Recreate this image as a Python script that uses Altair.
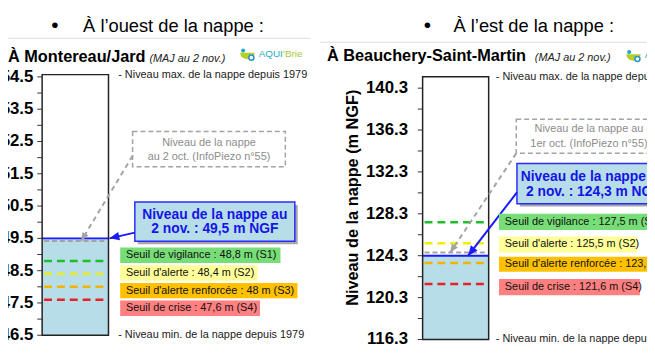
import math
import altair as alt
import pandas as pd

# ---------------- data ----------------
headings = ["À l’ouest de la nappe :", "À l’est de la nappe :"]
stations = ["À Montereau/Jard", "À Beauchery-Saint-Martin"]
update_note = "(MAJ au 2 nov.)"
max_level = [54.57, 141.4]
min_level = [46.5, 116.3]
level_2nov = [49.5, 124.3]
level_prev = [49.42, 124.6]
prev_labels = [["Niveau de la nappe", "au 2 oct. (InfoPiezo n°55)"],
               ["Niveau de la nappe au", "1er oct. (InfoPiezo n°55)"]]
now_label = "Niveau de la nappe au"
now_date = "2 nov."
threshold_west = [48.8, 48.4, 48.0, 47.6]
threshold_east = [127.5, 125.5, 123.6, 121.6]
threshold_names = ["Seuil de vigilance", "Seuil d'alerte", "Seuil d'alerte renforcée", "Seuil de crise"]
threshold_codes = ["S1", "S2", "S3", "S4"]
ticks_west = [46.5, 47.0, 47.5, 48.0, 48.5, 49.0, 49.5, 50.0, 50.5, 51.0, 51.5,
              52.0, 52.5, 53.0, 53.5, 54.0, 54.5]
labels_west = [46.5, 47.5, 48.5, 49.5, 50.5, 51.5, 52.5, 53.5, 54.5]
ticks_east = [116.3, 118.3, 120.3, 122.3, 124.3, 126.3, 128.3, 130.3, 132.3,
              134.3, 136.3, 138.3, 140.3]
labels_east = [116.3, 120.3, 124.3, 128.3, 132.3, 136.3, 140.3]
axis_titles = [None, "Niveau de la nappe (m NGF)"]
max_note = "- Niveau max. de la nappe depuis 1979"
min_note = "- Niveau min. de la nappe depuis 1979"

# ---------------- styles / layout ----------------
W, H = 647, 340
SX = W / 655.0          # reference px -> plot px (horizontal)
VS, VO = 0.975, -5.5    # reference px -> plot px (vertical)
FN = "Liberation Sans, Arial, sans-serif"
FB = "Liberation Sans, Arial, sans-serif"
SMALL = 11
LINE_COLORS = ["#1fbf2a", "#f0f000", "#f5b300", "#e8202a"]
BOX_COLORS = ["#77dd77", "#ffff99", "#ffc000", "#ff8080"]
WATER = "#b7dde8"
BLUE = "#1a1aff"
GRAY = "#a3a3a3"
ARROW = "M0,0L-2,-0.85L-2,0.85Z"
BOWL = "M-1,0L1,0L0.85,0.45L0.55,0.75L0,0.88L-0.55,0.75L-0.85,0.45Z"

LAYOUT = [
    dict(anchor=((75.0, 54.5), (343.3, 46.5)), box=(35, 103),
         bullet=(48, 28.5), heading=(77, 28.5), sep=(0, 310, 35),
         station=(0, 60), maj=(145, 60), logo=(0, 0), note_x=113,
         gray_box=(127.7, 284.3, 131.7, 168.3), gray_text=(206, 143.3, 158.3),
         gray_arrow=(127.7, 157, 75),
         blue_box=(130, 294, 205, 245.7), blue_text=(212, 218.3, 233.3),
         blue_arrow=(130, 236.7, 104),
         thr_boxes=[(115, 279.3, 252.3, 268.3), (115, 256, 270.7, 286.7),
                    (115, 296.7, 289, 305), (115, 258.3, 307.3, 323.3)],
         label_pad=4, title_pos=None),
    dict(anchor=((86.7, 140.3), (347.7, 116.3)), box=(425, 492.7),
         bullet=(430, 28.5), heading=(456.7, 28.5), sep=(320, 700, 39),
         station=(327, 58.3), maj=(540, 58.3), logo=(395.7, 1.5), note_x=500,
         gray_box=(521, 670, 119, 154.3), gray_text=(595.5, 129.3, 144.3),
         gray_arrow=(521, 154.3, 453.3),
         blue_box=(521.7, 679, 165, 206.7), blue_text=(600, 179, 194.3),
         blue_arrow=(521.7, 195, 471.7),
         thr_boxes=[(503.3, 690, 217, 234), (503.3, 645, 240.7, 257.3),
                    (503.3, 700, 261.7, 277.3), (503.3, 647.7, 285, 301.7)],
         label_pad=10, title_pos=(353.5, 200.5)),
]

XS = alt.Scale(domain=[0, 655], nice=False, zero=False)


def fr(v):
    s = f"{v:.1f}"
    if s.endswith(".0"):
        s = s[:-2]
    return s.replace(".", ",")


def make_panel(i, L, thresholds, ticks, tick_labels):
    (r1, v1), (r2, v2) = L["anchor"]
    slope = (v2 - v1) / (r2 - r1)

    def val(r):
        return v1 + (r - r1) * slope

    def ref(v):
        return r1 + (v - v1) / slope

    YS = alt.Scale(domain=[val((H - VO) / VS), val(-VO / VS)], nice=False, zero=False)

    def X(f):
        return alt.X(f"{f}:Q", scale=XS, axis=None)

    def Y(f):
        return alt.Y(f"{f}:Q", scale=YS, axis=None)

    bx0, bx1 = L["box"]
    layers = []

    # gauge box (white background)
    box = pd.DataFrame({"x0": [bx0], "x1": [bx1], "y0": [min_level[i]], "y1": [max_level[i]]})
    layers.append(alt.Chart(box).mark_rect(fill="white").encode(
        x=X("x0"), x2="x1:Q", y=Y("y0"), y2="y1:Q"))

    # water column up to the current level
    water = pd.DataFrame({"x0": [bx0], "x1": [bx1], "y0": [min_level[i]], "y1": [level_2nov[i]]})
    layers.append(alt.Chart(water).mark_rect(fill=WATER).encode(
        x=X("x0"), x2="x1:Q", y=Y("y0"), y2="y1:Q"))

    # thresholds
    thr = pd.DataFrame({"x0": [bx0 + 2] * 4, "x1": [bx1 - 2] * 4, "y": thresholds, "c": LINE_COLORS})
    layers.append(alt.Chart(thr).mark_rule(strokeDash=[8, 5], strokeWidth=2.5).encode(
        x=X("x0"), x2="x1:Q", y=Y("y"), color=alt.Color("c:N", scale=None)))

    # previous level
    prev = pd.DataFrame({"x0": [bx0 + 2], "x1": [bx1 - 2], "y": [level_prev[i]]})
    layers.append(alt.Chart(prev).mark_rule(color=GRAY, strokeDash=[5, 3], strokeWidth=2).encode(
        x=X("x0"), x2="x1:Q", y=Y("y")))

    # current level
    now = pd.DataFrame({"x0": [bx0], "x1": [bx1], "y": [level_2nov[i]]})
    layers.append(alt.Chart(now).mark_rule(color=BLUE, strokeWidth=2).encode(
        x=X("x0"), x2="x1:Q", y=Y("y")))

    # box outline
    layers.append(alt.Chart(box).mark_rect(fillOpacity=0, stroke="#222", strokeWidth=1.5).encode(
        x=X("x0"), x2="x1:Q", y=Y("y0"), y2="y1:Q"))

    # axis ticks and labels (positioned through the y scale)
    tk = pd.DataFrame({"x0": [bx0 - 5] * len(ticks), "x1": [bx0] * len(ticks), "y": ticks})
    layers.append(alt.Chart(tk).mark_rule(color="#333", strokeWidth=1).encode(
        x=X("x0"), x2="x1:Q", y=Y("y")))
    lb = pd.DataFrame({"x": [bx0 - 5 - L["label_pad"]] * len(tick_labels), "y": tick_labels,
                       "t": [f"{v:.1f}" for v in tick_labels]})
    layers.append(alt.Chart(lb).mark_text(align="right", baseline="middle", font=FB, fontSize=17,
                                          fontWeight="bold", color="#000").encode(
        x=X("x"), y=Y("y"), text="t:N"))
    if axis_titles[i]:
        tx, ty = L["title_pos"]
        td = pd.DataFrame({"x": [tx], "y": [val(ty)], "t": [axis_titles[i]]})
        layers.append(alt.Chart(td).mark_text(align="center", baseline="middle", angle=270, font=FB,
                                              fontSize=16.5, fontWeight="bold", color="#000").encode(
            x=X("x"), y=Y("y"), text="t:N"))

    # separator under heading
    sx0, sx1, sy = L["sep"]
    sep = pd.DataFrame({"x0": [sx0], "x1": [sx1], "y": [val(sy)]})
    layers.append(alt.Chart(sep).mark_rule(color="#dcdcdc", strokeWidth=1).encode(
        x=X("x0"), x2="x1:Q", y=Y("y")))

    def arrow(xs, rs, xt, vt, color, dash, size):
        rt = ref(vt)
        ang = math.degrees(math.atan2((rt - rs) * VS, (xt - xs) * SX)) % 360
        d = pd.DataFrame({"xs": [xs], "ys": [val(rs)], "xt": [xt], "yt": [vt]})
        rule_kw = dict(color=color, strokeWidth=2)
        if dash:
            rule_kw["strokeDash"] = dash
        return [
            alt.Chart(d).mark_rule(**rule_kw).encode(x=X("xs"), x2="xt:Q", y=Y("ys"), y2="yt:Q"),
            alt.Chart(d).mark_point(shape=ARROW, filled=True, opacity=1, size=size,
                                    color=color, angle=ang).encode(x=X("xt"), y=Y("yt")),
        ]

    # previous-level annotation
    gx0, gx1, gy0, gy1 = L["gray_box"]
    gb = pd.DataFrame({"x0": [gx0], "x1": [gx1], "y0": [val(gy0)], "y1": [val(gy1)]})
    layers.append(alt.Chart(gb).mark_rect(fill="white", stroke=GRAY, strokeDash=[5, 3],
                                          strokeWidth=1.5).encode(
        x=X("x0"), x2="x1:Q", y=Y("y0"), y2="y1:Q"))
    ax, ay, atx = L["gray_arrow"]
    layers += arrow(ax, ay, atx, level_prev[i], GRAY, [5, 4], 72)

    # current-level annotation
    cx0, cx1, cy0, cy1 = L["blue_box"]
    shadow = pd.DataFrame({"x0": [cx0 + 3], "x1": [cx1 + 3], "y0": [val(cy0 + 3)], "y1": [val(cy1 + 3)]})
    layers.append(alt.Chart(shadow).mark_rect(fill="#a8a8a8").encode(
        x=X("x0"), x2="x1:Q", y=Y("y0"), y2="y1:Q"))
    cb = pd.DataFrame({"x0": [cx0], "x1": [cx1], "y0": [val(cy0)], "y1": [val(cy1)]})
    layers.append(alt.Chart(cb).mark_rect(fill=WATER, stroke="#2b2bff", strokeWidth=1.5).encode(
        x=X("x0"), x2="x1:Q", y=Y("y0"), y2="y1:Q"))
    bx, by, btx = L["blue_arrow"]
    layers += arrow(bx, by, btx, level_2nov[i], BLUE, None, 100)

    # threshold label boxes
    tb = L["thr_boxes"]
    tdf = pd.DataFrame({"x0": [b[0] for b in tb], "x1": [b[1] for b in tb],
                        "y0": [val(b[2]) for b in tb], "y1": [val(b[3]) for b in tb],
                        "c": BOX_COLORS})
    layers.append(alt.Chart(tdf).mark_rect().encode(
        x=X("x0"), x2="x1:Q", y=Y("y0"), y2="y1:Q", color=alt.Color("c:N", scale=None)))

    # logo
    ox, oy = L["logo"]
    dot = pd.DataFrame({"x": [241 + ox], "y": [val(47.7 + oy)]})
    layers.append(alt.Chart(dot).mark_point(shape="circle", filled=True, opacity=1, size=18,
                                            color="#2aa7c6").encode(x=X("x"), y=Y("y")))
    bowl = pd.DataFrame({"x": [245.4 + ox], "y": [val(50 + oy)]})
    layers.append(alt.Chart(bowl).mark_point(shape=BOWL, filled=True, opacity=1, size=225,
                                             color="#b4cf2a").encode(x=X("x"), y=Y("y")))
    ring = pd.DataFrame({"x": [249.5 + ox], "y": [val(55 + oy)]})
    layers.append(alt.Chart(ring).mark_point(shape="circle", filled=True, opacity=1, size=26,
                                             fill="white", stroke="#2a8fd0",
                                             strokeWidth=1.5).encode(x=X("x"), y=Y("y")))

    def text(rows, **kw):
        d = pd.DataFrame(rows, columns=["x", "y", "t"])
        base = dict(align="left", baseline="middle", font=FN, fontSize=SMALL, color="#1a1a1a")
        base.update(kw)
        return alt.Chart(d).mark_text(**base).encode(x=X("x"), y=Y("y"), text=alt.Text("t:N"))

    layers.append(text([(L["bullet"][0], val(L["bullet"][1]), "•")], align="center",
                       baseline="alphabetic", fontSize=21, color="#000"))
    layers.append(text([(L["heading"][0], val(L["heading"][1]), headings[i])],
                       baseline="alphabetic", fontSize=18.5, color="#000"))
    layers.append(text([(L["station"][0], val(L["station"][1]), stations[i])],
                       baseline="alphabetic", font=FB, fontSize=16.5, fontWeight="bold", color="#000"))
    layers.append(text([(L["maj"][0], val(L["maj"][1]), update_note)],
                       baseline="alphabetic", fontStyle="italic", color="#222"))
    layers.append(text([(257 + ox, val(51 + oy), "AQUI")], fontSize=10, color="#2aa7c6"))
    layers.append(text([(282 + ox, val(51 + oy), "'Brie")], fontSize=10, color="#a3c83a"))
    layers.append(text([(L["note_x"], max_level[i], max_note),
                        (L["note_x"], min_level[i], min_note)]))
    gtx, gty1, gty2 = L["gray_text"]
    layers.append(text([(gtx, val(gty1), prev_labels[i][0]), (gtx, val(gty2), prev_labels[i][1])],
                       align="center", color="#8c8c8c"))
    btx_, bty1, bty2 = L["blue_text"]
    layers.append(text([(btx_, val(bty1), now_label),
                        (btx_, val(bty2), f"{now_date} : {fr(level_2nov[i])} m NGF")],
                       align="center", font=FB, fontSize=14, fontWeight="bold", color="#1414e6"))
    layers.append(text([(b[0] + 6, val((b[2] + b[3]) / 2),
                         f"{n} : {fr(v)} m ({c})")
                        for b, n, v, c in zip(tb, threshold_names, thresholds, threshold_codes)],
                       color="#111"))
    return alt.layer(*layers)


west = make_panel(0, LAYOUT[0], threshold_west, ticks_west, labels_west)
east = make_panel(1, LAYOUT[1], threshold_east, ticks_east, labels_east)

chart = (
    alt.layer(west, east)
    .resolve_scale(y="independent")
    .properties(width=W, height=H, autosize=alt.AutoSizeParams(type="none"), padding=0,
                background="white")
    .configure_view(stroke=None)
)

chart.save("out.html", embed_options={"renderer": "svg", "actions": False})
